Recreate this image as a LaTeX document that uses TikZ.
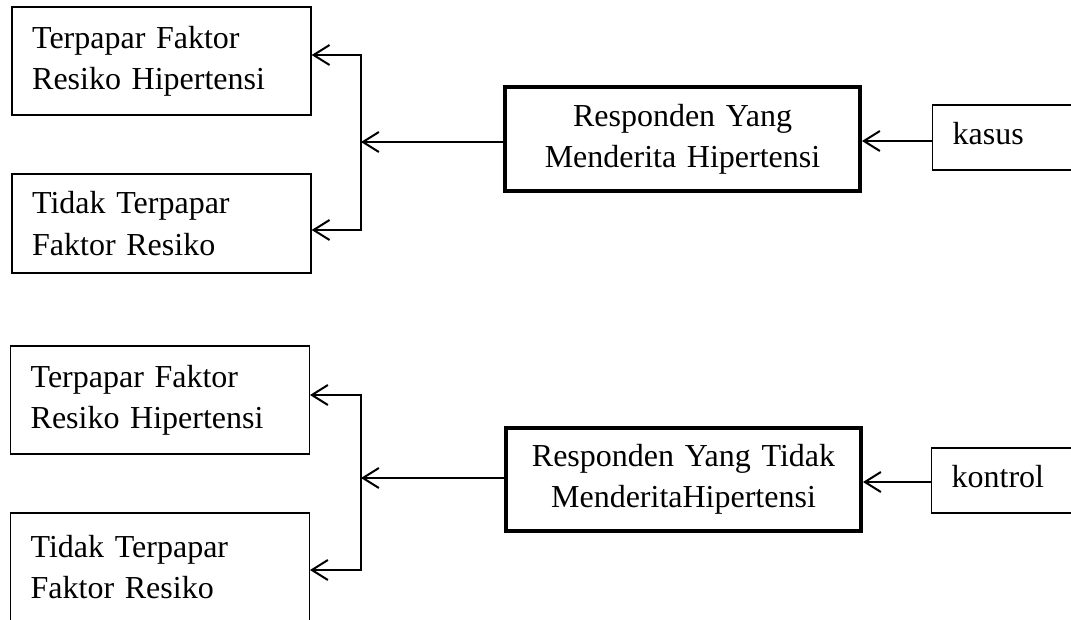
\documentclass[tikz,border=0pt]{standalone}
\usepackage{fontspec}
\setmainfont{Liberation Serif}
\usetikzlibrary{arrows.meta}
\begin{document}
\begin{tikzpicture}[x=0.75pt,y=-0.75pt,
  every node/.style={font=\fontsize{24}{31}\selectfont},
  leftbox/.style={draw, line width=1pt, minimum width=224.25pt, text width=194pt, align=left, inner xsep=15pt, inner ysep=0pt},
  mainbox/.style={draw, line width=3pt, minimum width=266.25pt, text width=240pt, align=center, inner ysep=0pt},
  sidebox/.style={draw, line width=1pt, anchor=west, minimum width=127.5pt, minimum height=48.75pt, text width=97.5pt, align=left, inner xsep=15pt, inner ysep=0pt, text depth=6pt},
  arr/.style={line width=1.5pt, -{Straight Barb[length=12pt,width=15pt,line width=1.5pt]}},
  conn/.style={line width=1.5pt}]
\clip (0,0) rectangle (1071,619);
\fill[white] (0,0) rectangle (1071,619);

% top group
\node[leftbox, minimum height=81pt] (A1) at (161.5,61) {Terpapar Faktor\\Resiko Hipertensi};
\node[leftbox, minimum height=74.25pt] (A2) at (161.5,223.5) {Tidak Terpapar\\Faktor Resiko};
\node[mainbox, minimum height=78pt] (M1) at (682.5,139) {Responden Yang\\Menderita Hipertensi};
\node[sidebox] (K1) at (932,137.5) {kasus};

\coordinate (j1) at (361,142);
\coordinate (t1) at (361,55);
\coordinate (t2) at (361,230);
\coordinate (k1) at (900,141);
\draw[arr] (M1.west |- j1) -- (j1);
\draw[arr] (t2) -- (t1) -- (A1.east |- t1);
\draw[arr] (t1) -- (t2) -- (A2.east |- t2);
\draw[arr] (K1.west |- k1) -- (M1.east |- k1);

% bottom group
\node[leftbox, minimum width=223.5pt, minimum height=81pt] (B1) at (160,400) {Terpapar Faktor\\Resiko Hipertensi};
\node[leftbox, minimum width=223.5pt, minimum height=81pt] (B2) at (160,567) {Tidak Terpapar\\Faktor Resiko};
\node[mainbox, minimum height=77.25pt] (M2) at (683.5,479.5) {Responden Yang Tidak\\MenderitaHipertensi};
\node[sidebox] (K2) at (931,480.5) {kontrol};

\coordinate (j2) at (361,478);
\coordinate (u1) at (361,395);
\coordinate (u2) at (361,570);
\coordinate (k2) at (900,482);
\draw[arr] (M2.west |- j2) -- (j2);
\draw[arr] (u2) -- (u1) -- (B1.east |- u1);
\draw[arr] (u1) -- (u2) -- (B2.east |- u2);
\draw[arr] (K2.west |- k2) -- (M2.east |- k2);
\end{tikzpicture}
\end{document}
